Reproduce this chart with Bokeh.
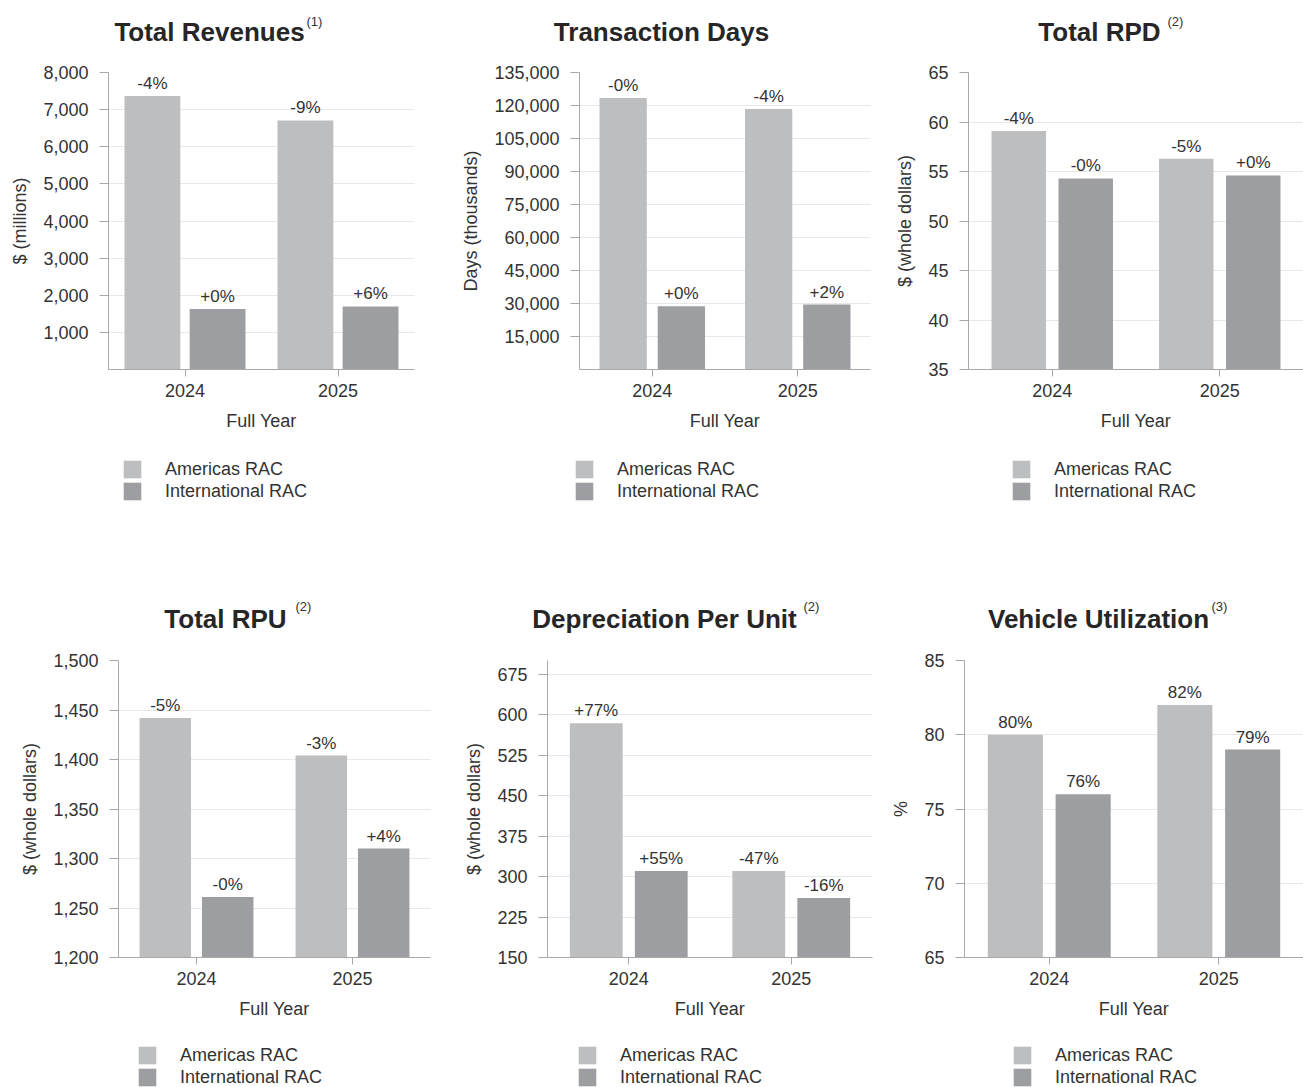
import numpy as np
from bokeh.plotting import figure
from bokeh.models import (FactorRange, Range1d, FixedTicker, NumeralTickFormatter,
                          LabelSet, Legend, LegendItem, ColumnDataSource)
from bokeh.core.properties import value
from bokeh.transform import dodge
from bokeh.layouts import row, column
from bokeh.embed import file_html
from bokeh.resources import INLINE

# ---------------------------------------------------------------- data
years = ["2024", "2025"]
series_names = ["Americas RAC", "International RAC"]

revenue_americas = [7370, 6710]
revenue_international = [1630, 1700]
revenue_americas_chg = ["-4%", "-9%"]
revenue_international_chg = ["+0%", "+6%"]
revenue_ticks = [1000, 2000, 3000, 4000, 5000, 6000, 7000, 8000]

days_americas = [123400, 118400]
days_international = [28800, 29500]
days_americas_chg = ["-0%", "-4%"]
days_international_chg = ["+0%", "+2%"]
days_ticks = [15000, 30000, 45000, 60000, 75000, 90000, 105000, 120000, 135000]

rpd_americas = [59.1, 56.3]
rpd_international = [54.3, 54.6]
rpd_americas_chg = ["-4%", "-5%"]
rpd_international_chg = ["-0%", "+0%"]
rpd_ticks = [35, 40, 45, 50, 55, 60, 65]

rpu_americas = [1442, 1404]
rpu_international = [1261, 1310]
rpu_americas_chg = ["-5%", "-3%"]
rpu_international_chg = ["-0%", "+4%"]
rpu_ticks = [1200, 1250, 1300, 1350, 1400, 1450, 1500]

dpu_americas = [584, 310]
dpu_international = [310, 260]
dpu_americas_chg = ["+77%", "-47%"]
dpu_international_chg = ["+55%", "-16%"]
dpu_ticks = [150, 225, 300, 375, 450, 525, 600, 675]

util_americas = [80, 82]
util_international = [76, 79]
util_americas_lbl = ["80%", "82%"]
util_international_lbl = ["76%", "79%"]
util_ticks = [65, 70, 75, 80, 85]

# ---------------------------------------------------------------- style
FONT = "Liberation Sans"
C_AMERICAS = "#bdbebf"
C_INTERNATIONAL = "#9d9ea1"
TEXT = "#333333"
TITLE = "#262626"
AXIS = "#a8a8a8"
GRID = "#e8e8e8"
PAGE_W = 1303

panels = [
    # upper row
    dict(title="Total Revenues", note="(1)", ylabel="$ (millions)",
         am=revenue_americas, intl=revenue_international,
         am_lbl=revenue_americas_chg, intl_lbl=revenue_international_chg,
         ticks=revenue_ticks, yr=(0, 8000),
         bl=108, fw=306, br=21, tcx=209, ncx=306, bw=0.365, off=0.213, lx=121),
    dict(title="Transaction Days", note="", ylabel="Days (thousands)",
         am=days_americas, intl=days_international,
         am_lbl=days_americas_chg, intl_lbl=days_international_chg,
         ticks=days_ticks, yr=(0, 135000),
         bl=144, fw=291, br=5, tcx=661, ncx=0, bw=0.325, off=0.2, lx=573),
    dict(title="Total RPD", note="(2)", ylabel="$ (whole dollars)",
         am=rpd_americas, intl=rpd_international,
         am_lbl=rpd_americas_chg, intl_lbl=rpd_international_chg,
         ticks=rpd_ticks, yr=(35, 65),
         bl=93, fw=335, br=0, tcx=1099, ncx=1167, bw=0.325, off=0.2, lx=1010),
    # lower row
    dict(title="Total RPU", note="(2)", ylabel="$ (whole dollars)",
         am=rpu_americas, intl=rpu_international,
         am_lbl=rpu_americas_chg, intl_lbl=rpu_international_chg,
         ticks=rpu_ticks, yr=(1200, 1500),
         bl=118, fw=312, br=5, tcx=225, ncx=295, bw=0.33, off=0.2, lx=136),
    dict(title="Depreciation Per Unit", note="(2)", ylabel="$ (whole dollars)",
         am=dpu_americas, intl=dpu_international,
         am_lbl=dpu_americas_chg, intl_lbl=dpu_international_chg,
         ticks=dpu_ticks, yr=(150, 700),
         bl=112, fw=325, br=3, tcx=664, ncx=803, bw=0.325, off=0.2, lx=576),
    dict(title="Vehicle Utilization", note="(3)", ylabel="%",
         am=util_americas, intl=util_international,
         am_lbl=util_americas_lbl, intl_lbl=util_international_lbl,
         ticks=util_ticks, yr=(65, 85),
         bl=89, fw=339, br=0, tcx=1098, ncx=1211, bw=0.325, off=0.2, lx=1011),
]

# per-row strips: header (titles) above the charts, footer (legends) below
ROWS = [
    dict(header=60, title_y=29, note_y=39, footer=147, legend_vy=78),
    dict(header=68, title_y=30, note_y=42, footer=66, legend_vy=-1),
]
FRAME_H = 297
CHART_TOP = 12
CHART_BOTTOM = 64


def blank_strip(height):
    """A figure whose frame fills its whole canvas; holds titles or legends."""
    p = figure(width=PAGE_W, height=height, x_range=Range1d(0, PAGE_W),
               y_range=Range1d(0, height), x_axis_location=None,
               y_axis_location=None, toolbar_location=None, output_backend="svg",
               min_border=0, outline_line_color=None, title=None,
               background_fill_color="white", border_fill_color="white")
    p.grid.visible = False
    return p


def make_header(cfgs, rw):
    p = blank_strip(rw["header"])
    titles = ColumnDataSource(dict(x=[c["tcx"] for c in cfgs],
                                   y=[rw["title_y"]] * len(cfgs),
                                   t=[c["title"] for c in cfgs]))
    p.text(x="x", y="y", text="t", source=titles, text_font=value(FONT),
           text_font_style=value("bold"), text_font_size=value("26px"),
           text_color=TITLE, text_align=value("center"),
           text_baseline=value("middle"))
    noted = [c for c in cfgs if c["note"]]
    notes = ColumnDataSource(dict(x=[c["ncx"] for c in noted],
                                  y=[rw["note_y"]] * len(noted),
                                  t=[c["note"] for c in noted]))
    p.text(x="x", y="y", text="t", source=notes, text_font=value(FONT),
           text_font_size=value("13px"), text_color=TEXT,
           text_align=value("left"), text_baseline=value("middle"))
    return p


def make_footer(cfgs, rw):
    p = blank_strip(rw["footer"])
    # legend keys: renderers holding a single undefined point, so only the key shows
    key_src = ColumnDataSource(dict(x=np.array([np.nan]), top=np.array([np.nan])))
    for c in cfgs:
        r_am = p.vbar(x="x", top="top", width=1, source=key_src,
                      fill_color=C_AMERICAS, line_color=None)
        r_in = p.vbar(x="x", top="top", width=1, source=key_src,
                      fill_color=C_INTERNATIONAL, line_color=None)
        p.add_layout(Legend(
            items=[LegendItem(label=series_names[0], renderers=[r_am]),
                   LegendItem(label=series_names[1], renderers=[r_in])],
            location=(c["lx"], rw["legend_vy"]), orientation="vertical",
            glyph_width=22, glyph_height=22, label_height=20, spacing=0,
            padding=0, margin=0, label_standoff=22,
            border_line_color=None, background_fill_alpha=0,
            label_text_font=FONT, label_text_font_size="18px",
            label_text_color=TEXT))
    return p


def make_chart(cfg):
    lo, hi = cfg["yr"]
    p = figure(x_range=FactorRange(factors=years), y_range=Range1d(lo, hi),
               frame_width=cfg["fw"], frame_height=FRAME_H,
               min_border_left=cfg["bl"], min_border_right=cfg["br"],
               min_border_top=CHART_TOP, min_border_bottom=CHART_BOTTOM,
               title=None, toolbar_location=None, output_backend="svg",
               outline_line_color=None, background_fill_color="white",
               border_fill_color="white")

    src = ColumnDataSource(dict(year=years, am=cfg["am"], intl=cfg["intl"],
                                am_lbl=cfg["am_lbl"], intl_lbl=cfg["intl_lbl"]))
    x_am = dodge("year", -cfg["off"], range=p.x_range)
    x_in = dodge("year", cfg["off"], range=p.x_range)
    p.vbar(x=x_am, top="am", bottom=lo, width=cfg["bw"], source=src,
           fill_color=C_AMERICAS, line_color=None)
    p.vbar(x=x_in, top="intl", bottom=lo, width=cfg["bw"], source=src,
           fill_color=C_INTERNATIONAL, line_color=None)

    for xs, col in ((x_am, "am"), (x_in, "intl")):
        p.add_layout(LabelSet(x=xs, y=col, text=col + "_lbl", source=src,
                              y_offset=3, text_align="center", text_baseline="bottom",
                              text_font=value(FONT), text_font_size="17px",
                              text_color=TEXT))

    ticker = FixedTicker(ticks=cfg["ticks"])
    yax = p.yaxis[0]
    yax.ticker = ticker
    yax.formatter = NumeralTickFormatter(format="0,0")
    yax.axis_label = cfg["ylabel"]
    yax.axis_label_standoff = 10
    yax.major_tick_out = 9
    yax.major_tick_in = 0
    yax.minor_tick_line_color = None
    yax.major_label_standoff = 11
    xax = p.xaxis[0]
    xax.axis_label = "Full Year"
    xax.axis_label_standoff = 11
    xax.major_tick_out = 7
    xax.major_tick_in = 0
    xax.major_label_standoff = 7
    for ax in (xax, yax):
        ax.axis_line_color = AXIS
        ax.major_tick_line_color = AXIS
        ax.major_label_text_font = FONT
        ax.major_label_text_font_size = "18px"
        ax.major_label_text_color = TEXT
        ax.axis_label_text_font = FONT
        ax.axis_label_text_font_size = "18px"
        ax.axis_label_text_font_style = "normal"
        ax.axis_label_text_color = TEXT
    p.xgrid.visible = False
    p.ygrid.ticker = ticker
    p.ygrid.grid_line_color = GRID
    return p


blocks = []
for i, rw in enumerate(ROWS):
    cfgs = panels[3 * i:3 * i + 3]
    blocks.append(make_header(cfgs, rw))
    blocks.append(row(*[make_chart(c) for c in cfgs], spacing=0))
    blocks.append(make_footer(cfgs, rw))

layout = column(*blocks, spacing=0)

with open("out.html", "w") as f:
    f.write(file_html(layout, INLINE))
